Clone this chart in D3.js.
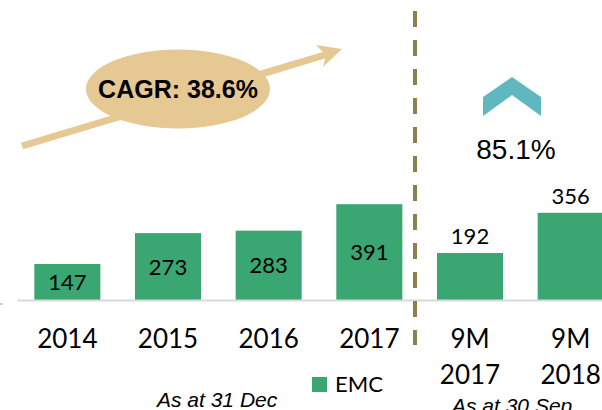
<!DOCTYPE html>
<html>
<head>
<meta charset="utf-8">
<script src="https://cdn.jsdelivr.net/npm/d3@7"></script>
<style>
  body { margin: 0; background: #fff; }
  .barLabel { font-family: Lato, sans-serif; font-size: 22px; fill: #000; }
  .tickLabel { font-family: Lato, sans-serif; font-size: 26px; fill: #000; }
  .note { font-family: "Liberation Sans", Arial, sans-serif; font-style: italic; font-size: 21px; fill: #000; }
</style>
</head>
<body>
<script>
//chart values
var categories = ["2014", "2015", "2016", "2017", "9M 2017", "9M 2018"];
var values = [147, 273, 283, 391, 192, 356];
var tickLabels = [["2014"], ["2015"], ["2016"], ["2017"], ["9M", "2017"], ["9M", "2018"]];
var seriesName = "EMC";
var cagrText = "CAGR: 38.6%";
var growthText = "85.1%";
var periodNotes = ["As at 31 Dec", "As at 30 Sep"];

var WIDTH = 602;
var HEIGHT = 410;
var BASE_Y = 300;
var BAR_COLOR = "#3aa672";
var TAN = "#e6c892";

var svg = d3.select("body").append("svg")
	.attr("width", WIDTH)
	.attr("height", HEIGHT);

var x = d3.scaleBand()
	.domain(categories)
	.range([17, 621])
	.paddingInner(0.344)
	.paddingOuter(0.172);

var y = d3.scaleLinear()
	.domain([0, 400])
	.range([BASE_Y, BASE_Y - 98]);

//small stray mark at the left edge
svg.append("rect")
	.attr("x", 0).attr("y", 303)
	.attr("width", 3).attr("height", 2)
	.attr("fill", "#d0d0d0");

//bars
svg.selectAll(".bar")
	.data(categories)
	.enter()
	.append("rect")
	.attr("class", "bar")
	.attr("x", function(d) { return x(d); })
	.attr("y", function(d, i) { return y(values[i]); })
	.attr("width", x.bandwidth())
	.attr("height", function(d, i) { return BASE_Y - y(values[i]); })
	.attr("fill", BAR_COLOR);

//value labels: inside for full years, above for 9M
svg.selectAll(".barLabel")
	.data(categories)
	.enter()
	.append("text")
	.attr("class", "barLabel")
	.attr("text-anchor", "middle")
	.attr("x", function(d) { return x(d) + x.bandwidth() / 2; })
	.attr("y", function(d, i) {
		var top = y(values[i]);
		if (d.indexOf("9M") === 0) return top - 9;
		return (top + BASE_Y) / 2 + 8;
	})
	.text(function(d, i) { return values[i]; });

//axis
var axis = svg.append("g")
	.attr("transform", "translate(0," + BASE_Y + ")")
	.call(d3.axisBottom(x).tickSize(0).tickFormat(""));

axis.select(".domain")
	.attr("stroke", "#d9d9d9")
	.attr("stroke-width", 2);

axis.selectAll(".tick").each(function(d, i) {
	var t = d3.select(this).append("text")
		.attr("class", "tickLabel")
		.attr("text-anchor", "middle")
		.attr("y", 48);
	tickLabels[i].forEach(function(line, j) {
		t.append("tspan")
			.attr("x", 0)
			.attr("dy", j === 0 ? 0 : 36)
			.text(line);
	});
});

//dashed divider
svg.append("line")
	.attr("x1", 415).attr("x2", 415)
	.attr("y1", 11).attr("y2", 345)
	.attr("stroke", "#8c7f50")
	.attr("stroke-width", 4)
	.attr("stroke-dasharray", "16,13");

//CAGR arrow
svg.append("line")
	.attr("x1", 22).attr("y1", 146)
	.attr("x2", 328).attr("y2", 54)
	.attr("stroke", TAN)
	.attr("stroke-width", 7);

svg.append("path")
	.attr("d", "M342,49 L316,45 L326,55 L323,67 Z")
	.attr("fill", TAN);

svg.append("ellipse")
	.attr("cx", 178).attr("cy", 89)
	.attr("rx", 92).attr("ry", 39.5)
	.attr("fill", TAN);

svg.append("text")
	.attr("x", 178).attr("y", 98)
	.attr("text-anchor", "middle")
	.style("font-family", "'Liberation Sans', Arial, sans-serif")
	.style("font-weight", "bold")
	.style("font-size", "25px")
	.text(cagrText);

//growth chevron
svg.append("path")
	.attr("d", "M483,97 L512,77 L541,97 L541,116 L512,95 L483,116 Z")
	.attr("fill", "#5fb8c0");

svg.append("text")
	.attr("x", 516).attr("y", 159)
	.attr("text-anchor", "middle")
	.style("font-family", "'Liberation Sans', Arial, sans-serif")
	.style("font-size", "28px")
	.text(growthText);

//legend
svg.append("rect")
	.attr("x", 312).attr("y", 377)
	.attr("width", 15).attr("height", 15)
	.attr("fill", BAR_COLOR);

svg.append("text")
	.attr("class", "tickLabel")
	.attr("x", 335).attr("y", 392)
	.style("font-size", "22px")
	.text(seriesName);

//period notes
svg.append("text")
	.attr("class", "note")
	.attr("x", 157).attr("y", 407)
	.text(periodNotes[0]);

svg.append("text")
	.attr("class", "note")
	.attr("x", 452).attr("y", 413)
	.text(periodNotes[1]);
</script>
</body>
</html>
